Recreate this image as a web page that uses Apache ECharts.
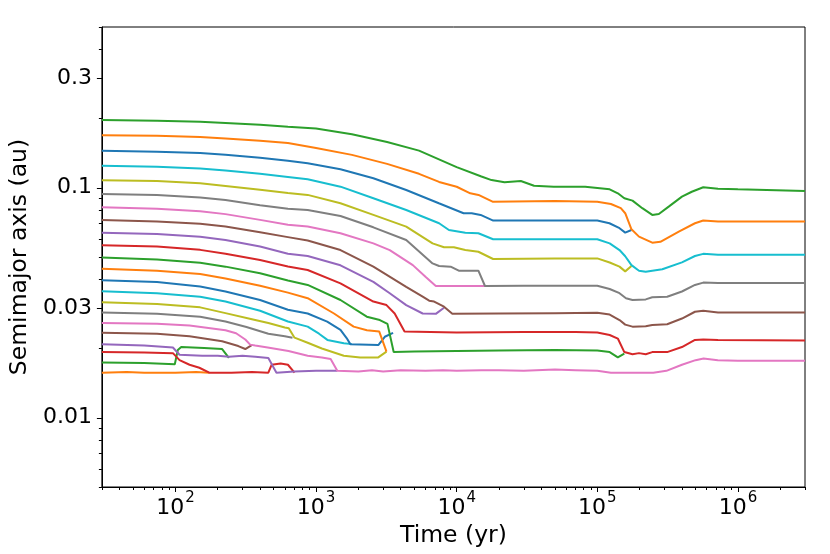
<!DOCTYPE html>
<html><head><meta charset="utf-8">
<script src="https://cdn.jsdelivr.net/npm/echarts@6/dist/echarts.min.js"></script>
<style>html,body{margin:0;padding:0;background:#fff}#c{width:830px;height:554px}</style>
</head><body><div id="c"></div>
<script>
// ---- axis ticks / labels ----
const xMajorTicks = [100, 1000, 10000, 100000, 1000000];
const yMajorTicks = [0.01, 0.03, 0.1, 0.3];
const yTickLabels = ['0.01', '0.03', '0.1', '0.3'];
const xRange = [30, 3000000];
const yRange = [0.005, 0.5];

// ---- series: [time (yr), semimajor axis (au)] ----
const a01 = [[30,0.0157],[45,0.0158],[60,0.0157],[100,0.0157],[140,0.0158],[174,0.0157]];
const a02 = [[30,0.0174],[60,0.0173],[99,0.0171],[104,0.0197],[110,0.0203],[160,0.0201],[215,0.0199],[221,0.0196],[240,0.0182]];
const a03 = [[30,0.0193],[60,0.0192],[96,0.0191],[107,0.0178],[126,0.0170],[148,0.0165],[174,0.0157],[250,0.0157],[350,0.0158],[458,0.0157],[483,0.0170],[560,0.0172],[631,0.0170],[703,0.0157]];
const a04 = [[30,0.0209],[60,0.0206],[96,0.0202],[107,0.0188],[155,0.0186],[200,0.0186],[240,0.0184],[300,0.0186],[370,0.0184],[458,0.0182],[523,0.0157],[700,0.0159],[1000,0.0160],[1416,0.0160]];
const a05 = [[30,0.0234],[74,0.0232],[126,0.0226],[215,0.0215],[280,0.0205],[314,0.0199],[349,0.0207]];
const a06 = [[30,0.0258],[74,0.0256],[126,0.0252],[227,0.0240],[270,0.0233],[314,0.0219],[340,0.0208],[369,0.0206],[453,0.0202],[637,0.0195],[872,0.0186],[1100,0.0183],[1270,0.0180],[1416,0.0160],[2000,0.0159],[2500,0.0161],[3000,0.0159],[4000,0.0161],[6000,0.0160],[8000,0.0161],[10000,0.0160],[15000,0.0161],[20000,0.0161],[30000,0.0160],[50000,0.0162],[70000,0.0161],[100000,0.0160],[125000,0.0157],[160000,0.0157],[200000,0.0157],[250000,0.0157],[310000,0.0160],[400000,0.0170],[500000,0.0178],[570000,0.0181],[720000,0.0178],[1000000,0.0177],[3000000,0.0177]];
const a07 = [[30,0.0287],[74,0.0283],[150,0.0275],[227,0.0262],[320,0.0248],[458,0.0232],[600,0.0226],[680,0.0223]];
const a08 = [[30,0.0318],[74,0.0312],[150,0.0302],[227,0.0285],[350,0.0268],[458,0.0258],[600,0.0247],[640,0.0245],[703,0.0223],[872,0.0212],[1100,0.0200],[1576,0.0186],[2059,0.0183],[2771,0.0183],[3170,0.0194]];
const a09 = [[30,0.0355],[74,0.0348],[150,0.0336],[227,0.0320],[400,0.0292],[631,0.0262],[872,0.0249],[1050,0.0232],[1204,0.0218],[1576,0.0211],[1801,0.0209]];
const a10 = [[30,0.0396],[74,0.0389],[150,0.0372],[227,0.0354],[400,0.0325],[631,0.0295],[872,0.0284],[1200,0.0262],[1492,0.0241],[1650,0.0222],[1753,0.0209],[2771,0.0207],[3083,0.0225],[3531,0.0234]];
const a11 = [[30,0.0445],[74,0.0436],[150,0.0422],[227,0.0403],[400,0.0375],[631,0.0350],[872,0.0331],[1342,0.0284],[1851,0.0249],[2300,0.0240],[2816,0.0237],[3170,0.0194]];
const a12 = [[30,0.0498],[74,0.0488],[150,0.0472],[227,0.0454],[400,0.0425],[631,0.0395],[872,0.0378],[1492,0.0325],[2295,0.0275],[2843,0.0266],[3221,0.0256],[3566,0.0193],[5000,0.0194],[10000,0.0195],[20000,0.0196],[50000,0.0197],[100000,0.0196],[122500,0.0193],[140000,0.0183],[155700,0.0190]];
const a13 = [[30,0.0562],[74,0.0555],[150,0.0537],[227,0.0517],[400,0.0485],[631,0.0455],[872,0.0439],[1492,0.0384],[2557,0.0320],[3170,0.0309],[3624,0.0284],[4259,0.0237],[10000,0.0235],[30000,0.0236],[70000,0.0236],[100000,0.0235],[122500,0.0229],[140000,0.0221],[155700,0.0193],[178000,0.0189],[198000,0.0191],[221000,0.0189],[246000,0.0193],[314000,0.0193],[400000,0.0203],[495000,0.0218],[567000,0.0219],[722000,0.0218],[3000000,0.0217]];
const a14 = [[30,0.0638],[74,0.0630],[150,0.0612],[227,0.0593],[400,0.0555],[631,0.0517],[872,0.0505],[1492,0.0460],[2557,0.0390],[3343,0.0348],[4378,0.0309],[5732,0.0284],[7107,0.0283],[8128,0.0301]];
const a15 = [[30,0.0724],[74,0.0713],[150,0.0697],[227,0.0678],[400,0.0640],[631,0.0610],[872,0.0590],[1492,0.0536],[2557,0.0454],[4378,0.0371],[5732,0.0336],[6376,0.0323],[6915,0.0320],[8128,0.0304],[9310,0.0283],[20000,0.0284],[50000,0.0285],[100000,0.0286],[122500,0.0281],[143900,0.0266],[158000,0.0254],[178000,0.0249],[221000,0.0250],[246000,0.0253],[314000,0.0255],[400000,0.0270],[495000,0.0289],[567000,0.0292],[722000,0.0287],[3000000,0.0287]];
const a16 = [[30,0.0823],[74,0.0811],[150,0.0790],[227,0.0768],[400,0.0725],[631,0.0691],[872,0.0678],[1492,0.0634],[2557,0.0573],[3343,0.0536],[4878,0.0461],[6000,0.0410],[7107,0.0374],[10000,0.0374],[15900,0.0374]];
const a17 = [[30,0.0940],[74,0.0931],[150,0.0908],[227,0.0885],[400,0.0840],[631,0.0810],[872,0.0800],[1492,0.0754],[2557,0.0673],[4378,0.0593],[6739,0.0469],[7500,0.0457],[9056,0.0454],[10350,0.0436],[14270,0.0436],[15900,0.0374],[30000,0.0375],[100000,0.0375],[122500,0.0363],[143900,0.0348],[160000,0.0331],[178000,0.0325],[221000,0.0327],[246000,0.0334],[314000,0.0336],[400000,0.0354],[495000,0.0378],[567000,0.0387],[722000,0.0385],[3000000,0.0385]];
const a18 = [[30,0.1078],[74,0.1070],[150,0.1045],[227,0.1018],[400,0.0980],[631,0.0950],[872,0.0931],[1492,0.0856],[2557,0.0762],[4378,0.0678],[6739,0.0573],[8128,0.0551],[9551,0.0551],[11520,0.0536],[14270,0.0527],[18160,0.0490],[50000,0.0493],[100000,0.0493],[122500,0.0473],[143900,0.0454],[158000,0.0433],[175000,0.0457]];
const a19 = [[30,0.1247],[74,0.1235],[150,0.1212],[227,0.1188],[400,0.1150],[631,0.1115],[872,0.1088],[1492,0.1011],[2557,0.0900],[4378,0.0800],[7500,0.0701],[8810,0.0655],[11520,0.0638],[14270,0.0634],[18160,0.0597],[100000,0.0597],[122500,0.0573],[143900,0.0536],[158000,0.0504],[175000,0.0461],[198000,0.0436],[221000,0.0431],[246000,0.0436],[290000,0.0442],[400000,0.0474],[495000,0.0505],[567000,0.0516],[722000,0.0512],[3000000,0.0512]];
const a20 = [[30,0.1449],[74,0.1435],[150,0.1415],[227,0.1391],[400,0.1350],[631,0.1310],[872,0.1277],[1492,0.1203],[2557,0.1100],[4378,0.0978],[7470,0.0856],[11200,0.0775],[12800,0.0775],[14800,0.0762],[18200,0.0720],[100000,0.0720],[122000,0.0701],[144000,0.0667],[158000,0.0638],[175000,0.0655]];
const a21 = [[30,0.1691],[74,0.1684],[150,0.1662],[227,0.1637],[400,0.1600],[631,0.1566],[1000,0.1490],[1800,0.1390],[3200,0.1270],[5400,0.1150],[7500,0.1060],[10000,0.1010],[12500,0.0946],[14300,0.0931],[18000,0.0870],[50000,0.0875],[100000,0.0870],[125000,0.0850],[147000,0.0815],[158000,0.0775],[175000,0.0660],[198000,0.0613],[246000,0.0577],[281000,0.0582],[380000,0.0644],[495000,0.0701],[567000,0.0720],[722000,0.0713],[3000000,0.0713]];
const a22 = [[30,0.1971],[74,0.1955],[150,0.1935],[227,0.1914],[400,0.1880],[631,0.1843],[1000,0.1810],[1800,0.1710],[3200,0.1580],[5400,0.1450],[10000,0.1230],[15000,0.1120],[17700,0.1080],[21900,0.1056],[28600,0.1070],[35500,0.1020],[49000,0.1010],[82000,0.1010],[122500,0.0985],[140000,0.0946],[155700,0.0900],[178000,0.0879],[209000,0.0815],[246000,0.0762],[274000,0.0769],[322000,0.0828],[400000,0.0915],[470000,0.0961],[567000,0.1005],[722000,0.0991],[1000000,0.0985],[3000000,0.0968]];

const allSeries = [a01,a02,a03,a04,a05,a06,a07,a08,a09,a10,a11,a12,a13,a14,a15,a16,a17,a18,a19,a20,a21,a22];
const palette = ['#1f77b4','#ff7f0e','#2ca02c','#d62728','#9467bd','#8c564b','#e377c2','#7f7f7f','#bcbd22','#17becf'];

// minor tick positions (log subs 2..9)
const xMinorTicks = [], yMinorTicks = [];
for (let e = 1; e <= 6; e++) for (let m = 2; m <= 9; m++) { const v = m * Math.pow(10, e); if (v >= xRange[0] && v <= xRange[1]) xMinorTicks.push(v); }
for (let e = -3; e <= -1; e++) for (let m = 2; m <= 9; m++) { const v = +(m * Math.pow(10, e)).toPrecision(6); if (v >= yRange[0] && v <= yRange[1]) yMinorTicks.push(v); }

const FONT = 'DejaVu Sans';
const chart = echarts.init(document.getElementById('c'), null, {renderer: 'canvas'});

function xLabel(v) {
  const e = Math.round(Math.log10(v));
  return '{b|10}{s|' + e + '}';
}
function yLabel(v) {
  const i = yMajorTicks.findIndex(t => Math.abs(t - v) / t < 1e-6);
  return i >= 0 ? yTickLabels[i] : '';
}

const option = {
  animation: false,
  backgroundColor: '#fff',
  grid: {left: 91, right: 25, top: 27, bottom: 67, show: true, borderColor: '#000', borderWidth: 1, backgroundColor: 'transparent', containLabel: false},
  xAxis: [
    {type: 'log', logBase: 10, min: xRange[0], max: xRange[1], position: 'bottom', gridIndex: 0,
     name: 'Time (yr)', nameLocation: 'middle', nameGap: 27,
     nameTextStyle: {fontFamily: FONT, fontSize: 23.5, color: '#000'},
     axisLine: {show: true, lineStyle: {color: '#000', width: 1}},
     axisTick: {show: true, customValues: xMajorTicks, length: 5, inside: false, lineStyle: {color: '#000', width: 1}},
     axisLabel: {show: true, customValues: xMajorTicks, formatter: xLabel, margin: 4,
       rich: {b: {fontFamily: FONT, fontSize: 22, color: '#000', lineHeight: 28, verticalAlign: 'bottom'},
              s: {fontFamily: FONT, fontSize: 15, color: '#000', lineHeight: 28, verticalAlign: 'top', padding: [0,0,0,1]}}},
     splitLine: {show: false}, minorTick: {show: false}},
    {type: 'log', logBase: 10, min: xRange[0], max: xRange[1], position: 'bottom', gridIndex: 0,
     axisLine: {show: false},
     axisTick: {show: true, customValues: xMinorTicks, length: 3, lineStyle: {color: '#000', width: 1}},
     axisLabel: {show: false}, splitLine: {show: false}}
  ],
  yAxis: [
    {type: 'log', logBase: 10, min: yRange[0], max: yRange[1], position: 'left', gridIndex: 0,
     name: 'Semimajor axis (au)', nameLocation: 'middle', nameGap: 60,
     nameTextStyle: {fontFamily: FONT, fontSize: 23.5, color: '#000'},
     axisLine: {show: true, lineStyle: {color: '#000', width: 1}},
     axisTick: {show: true, customValues: yMajorTicks, length: 5, lineStyle: {color: '#000', width: 1}},
     axisLabel: {show: true, customValues: yMajorTicks, formatter: yLabel, margin: 10,
       fontFamily: FONT, fontSize: 22, color: '#000'},
     splitLine: {show: false}},
    {type: 'log', logBase: 10, min: yRange[0], max: yRange[1], position: 'left', gridIndex: 0,
     axisLine: {show: false},
     axisTick: {show: true, customValues: yMinorTicks, length: 3, lineStyle: {color: '#000', width: 1}},
     axisLabel: {show: false}, splitLine: {show: false}}
  ],
  series: allSeries.map((d, i) => ({
    type: 'line', data: d, xAxisIndex: 0, yAxisIndex: 0,
    showSymbol: false, symbol: 'none', smooth: false, silent: true, clip: true,
    lineStyle: {width: 2, color: palette[(i + 1) % 10]},
    itemStyle: {color: palette[(i + 1) % 10]},
    emphasis: {disabled: true}
  }))
};
chart.setOption(option);
</script>
</body></html>
